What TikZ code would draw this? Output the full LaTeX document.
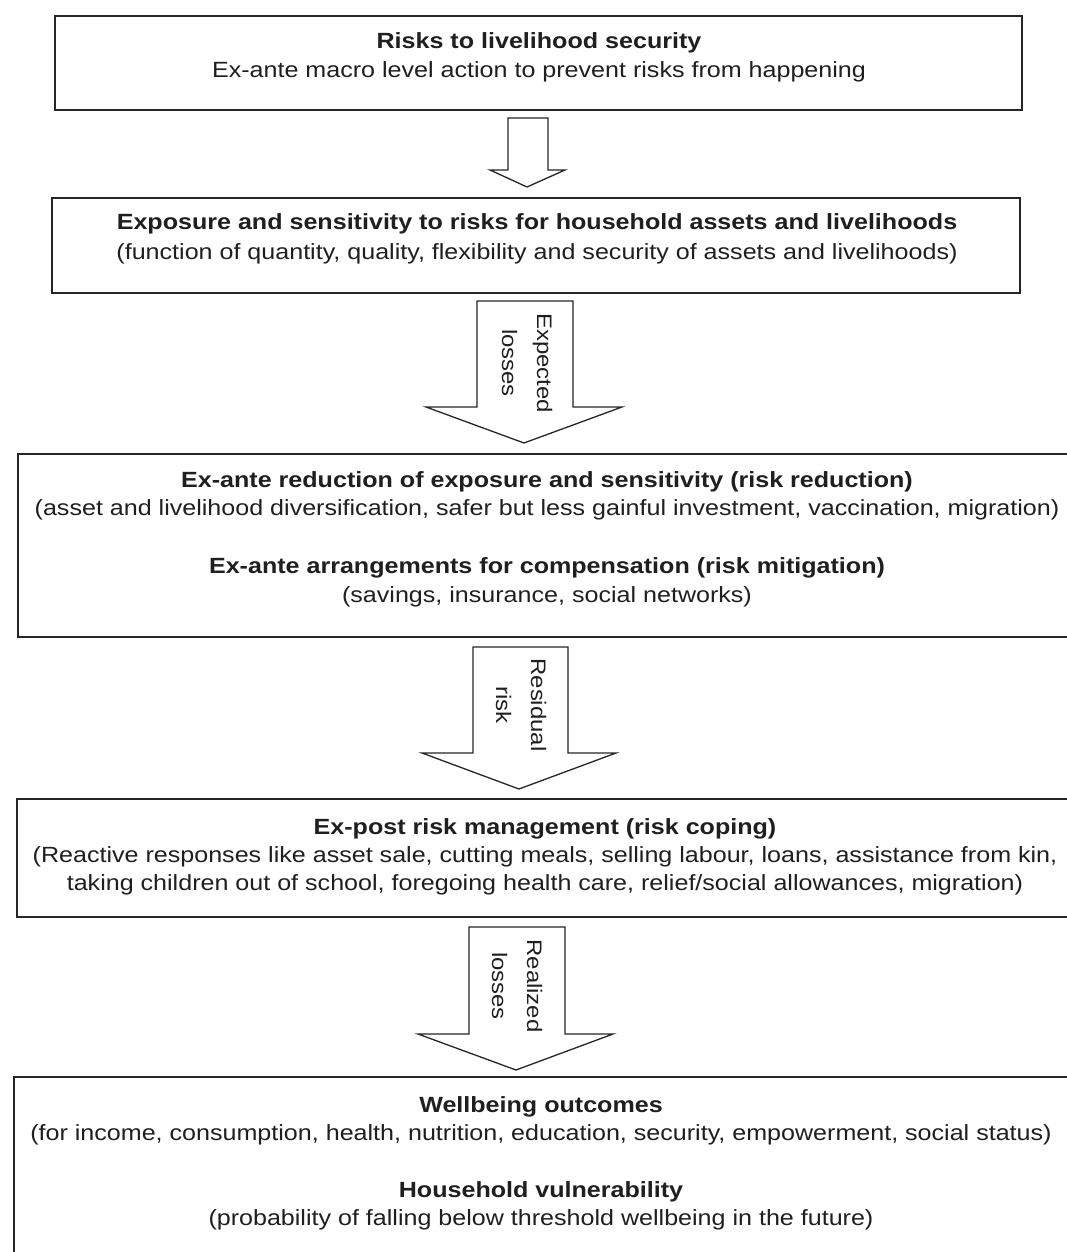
\documentclass[tikz,border=0pt]{standalone}
\usepackage{fontspec}
\setmainfont{Liberation Sans}[FakeStretch=1.14]
\begin{document}
\begin{tikzpicture}[x=1pt,y=-1pt,
  boxst/.style={draw=black!85, line width=1.7pt, inner sep=0pt, fill=none},
  txt/.style={anchor=base, inner sep=0pt, text=black!88, font=\fontsize{22}{29}\selectfont},
  ttl/.style={txt, font=\fontsize{22}{29}\selectfont\bfseries},
  arrowst/.style={draw=black!85, line width=1.3pt, fill=white, line join=miter},
  arrtxt/.style={rotate=-90, align=center, inner sep=0pt, text=black!88, font=\fontsize{21}{35}\selectfont}
]
\useasboundingbox[fill=white] (0,0) rectangle (1067,1252);

% boxes
\node[boxst, minimum width=967pt, minimum height=94pt] (b1) at (538.5,63) {};
\node[boxst, minimum width=968pt, minimum height=95pt] (b2) at (536,245.5) {};
\node[boxst, minimum width=1051pt, minimum height=183pt] (b3) at (543.5,545.5) {};
\node[boxst, minimum width=1052pt, minimum height=118pt] (b4) at (543,858) {};
\node[boxst, minimum width=1055pt, minimum height=179pt] (b5) at (541.5,1166.5) {};

% box texts
\node[ttl] (t1a) at (539,49) {Risks to livelihood security};
\node[txt] (t1b) at (539,78) {Ex-ante macro level action to prevent risks from happening};

\node[ttl] (t2a) at (537,229) {Exposure and sensitivity to risks for household assets and livelihoods};
\node[txt] (t2b) at (537,259) {(function of quantity, quality, flexibility and security of assets and livelihoods)};

\node[ttl] (t3a) at (547,487) {Ex-ante reduction of exposure and sensitivity (risk reduction)};
\node[txt] (t3b) at (547,515) {(asset and livelihood diversification, safer but less gainful investment, vaccination, migration)};
\node[ttl] (t3c) at (547,573) {Ex-ante arrangements for compensation (risk mitigation)};
\node[txt] (t3d) at (547,602) {(savings, insurance, social networks)};

\node[ttl] (t4a) at (545,834) {Ex-post risk management (risk coping)};
\node[txt] (t4b) at (545,862) {(Reactive responses like asset sale, cutting meals, selling labour, loans, assistance from kin,};
\node[txt] (t4c) at (545,890) {taking children out of school, foregoing health care, relief/social allowances, migration)};

\node[ttl] (t5a) at (541,1112) {Wellbeing outcomes};
\node[txt] (t5b) at (541,1140) {(for income, consumption, health, nutrition, education, security, empowerment, social status)};
\node[ttl] (t5c) at (541,1197) {Household vulnerability};
\node[txt] (t5d) at (541,1225) {(probability of falling below threshold wellbeing in the future)};

% block arrows
\draw[arrowst] (508,118) -- (548,118) -- (548,170) -- (565,170) -- (527,187) -- (490,170) -- (508,170) -- cycle;
\draw[arrowst] (477,301) -- (573,301) -- (573,407) -- (622,407) -- (524,443) -- (426,407) -- (477,407) -- cycle;
\draw[arrowst] (473,647) -- (568,647) -- (568,753) -- (616,753) -- (519,789) -- (422,753) -- (473,753) -- cycle;
\draw[arrowst] (469,927) -- (565,927) -- (565,1034) -- (613,1034) -- (516,1070) -- (418,1034) -- (469,1034) -- cycle;

% arrow labels
\node[arrtxt] (l2) at (527,363) {Expected\\losses};
\node[arrtxt] (l3) at (521,705) {Residual\\risk};
\node[arrtxt] (l4) at (517,986) {Realized\\losses};
\end{tikzpicture}
\end{document}
